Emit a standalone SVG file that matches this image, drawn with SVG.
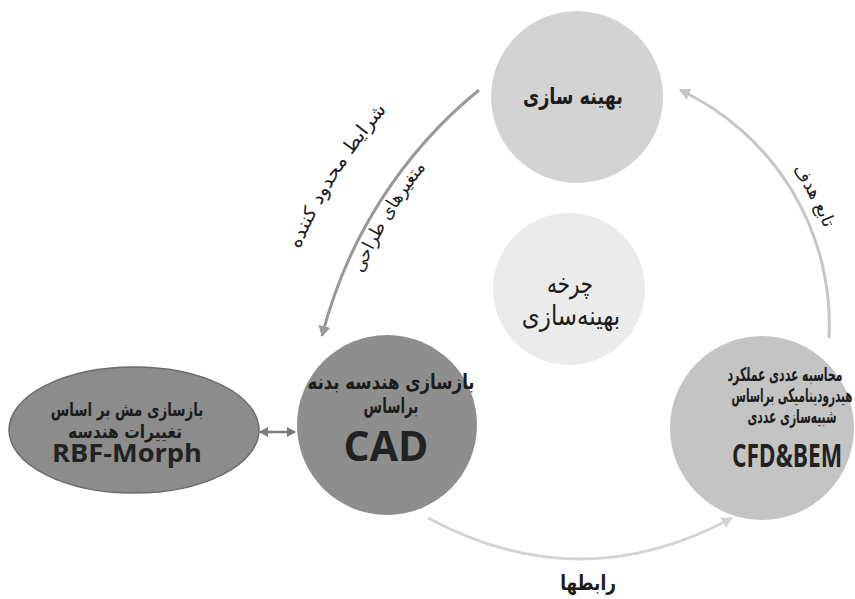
<svg xmlns="http://www.w3.org/2000/svg" width="855" height="599" viewBox="0 0 855 599">
<style>
.fa{font-family:"DejaVu Sans","Noto Sans",sans-serif;fill:#1c1c1c;text-anchor:middle}
.b{font-weight:bold}
.en{font-family:"Open Sans","Liberation Sans",sans-serif;font-weight:bold;fill:#222;text-anchor:middle}
.conn{fill:none;stroke-width:3}
</style>
<defs>
<marker id="ahDark" markerWidth="12" markerHeight="12" refX="10" refY="6" orient="auto" markerUnits="userSpaceOnUse"><path d="M0,0 L11,6 L0,12 Z" fill="#999"/></marker>
<marker id="ahLight" markerWidth="12" markerHeight="12" refX="10" refY="6" orient="auto" markerUnits="userSpaceOnUse"><path d="M0,0 L11,6 L0,12 Z" fill="#d4d4d4"/></marker>
<marker id="ahMid" markerWidth="12" markerHeight="12" refX="10" refY="6" orient="auto" markerUnits="userSpaceOnUse"><path d="M0,0 L11,6 L0,12 Z" fill="#c6c6c6"/></marker>
<marker id="ahD2" markerWidth="10" markerHeight="10" refX="8" refY="5" orient="auto-start-reverse" markerUnits="userSpaceOnUse"><path d="M0,0 L9,5 L0,10 Z" fill="#7a7a7a"/></marker>
<path id="pOuter" d="M 262.8 385.4 A 517 517 0 0 1 493.5 17.8"/>
<path id="pInner" d="M 343.8 325.8 A 450 450 0 0 1 463.5 126.3"/>
<path id="pRight" d="M 722.4 100.2 A 272 272 0 0 1 842 325"/>
</defs>
<rect width="855" height="599" fill="#ffffff"/>

<g id="connectors">
<path class="conn" d="M 479 90 A 467 467 0 0 0 322 336" stroke="#999" marker-end="url(#ahDark)"/>
<path class="conn" d="M 428 518 Q 580 600 732 518" stroke="#d4d4d4" marker-end="url(#ahLight)"/>
<path class="conn" d="M 829 338 A 259 259 0 0 0 680 90" stroke="#c6c6c6" marker-end="url(#ahMid)"/>
<line x1="260" y1="432" x2="295" y2="432" stroke="#7a7a7a" stroke-width="2.5" marker-start="url(#ahD2)" marker-end="url(#ahD2)"/>
<text class="fa" font-size="19" textLength="165" lengthAdjust="spacingAndGlyphs"><textPath href="#pOuter" startOffset="50%">شرایط محدود کننده</textPath></text>
<text class="fa" font-size="18" textLength="124" lengthAdjust="spacingAndGlyphs"><textPath href="#pInner" startOffset="50%">متغیرهای طراحی</textPath></text>
<text class="fa" font-size="18" textLength="67" lengthAdjust="spacingAndGlyphs"><textPath href="#pRight" startOffset="50%">تابع هدف</textPath></text>
<text class="fa b" transform="translate(588,590) scale(0.82,1)" font-size="21" textLength="68" lengthAdjust="spacingAndGlyphs">رابطها</text>
</g>

<g id="node-optimization">
<circle cx="577" cy="97" r="86" fill="#d3d3d3"/>
<text class="fa b" transform="translate(573,104) scale(0.8,1)" font-size="23" textLength="125" lengthAdjust="spacingAndGlyphs">بهینه سازی</text>
</g>

<g id="node-cycle">
<circle cx="569" cy="289" r="76" fill="#ebebeb"/>
<text class="fa" transform="translate(570,293) scale(0.74,1)" font-size="27" textLength="62" lengthAdjust="spacingAndGlyphs">چرخه</text>
<text class="fa" transform="translate(571,325) scale(0.84,1)" font-size="27" textLength="117" lengthAdjust="spacingAndGlyphs">بهینه‌سازی</text>
</g>

<g id="node-cad">
<circle cx="387" cy="425" r="90" fill="#8e8e8e"/>
<text class="fa b" transform="translate(391,389) scale(0.8,1)" font-size="21" textLength="209" lengthAdjust="spacingAndGlyphs">بازسازی هندسه بدنه</text>
<text class="fa b" transform="translate(391,413) scale(0.66,1)" font-size="21" textLength="83" lengthAdjust="spacingAndGlyphs">براساس</text>
<text class="en" x="386" y="461" font-size="41">CAD</text>
</g>

<g id="node-rbf">
<ellipse cx="134" cy="430" rx="125" ry="63" fill="#8c8c8c" stroke="#6c6c6c" stroke-width="1.5"/>
<text class="fa b" transform="translate(127,416) scale(0.67,1)" font-size="19" textLength="228" lengthAdjust="spacingAndGlyphs">بازسازی مش بر اساس</text>
<text class="fa b" transform="translate(125,438) scale(0.76,1)" font-size="19" textLength="150" lengthAdjust="spacingAndGlyphs">تغییرات هندسه</text>
<text class="en" x="127" y="462" font-size="25" textLength="150" lengthAdjust="spacingAndGlyphs">RBF-Morph</text>
</g>

<g id="node-cfd">
<circle cx="762" cy="428" r="92" fill="#c4c4c4"/>
<text class="fa b" transform="translate(785,381) scale(0.52,1)" font-size="19" textLength="221" lengthAdjust="spacingAndGlyphs">محاسبه عددی عملکرد</text>
<text class="fa b" transform="translate(792,402) scale(0.51,1)" font-size="19" textLength="237" lengthAdjust="spacingAndGlyphs">هیدرودینامیکی براساس</text>
<text class="fa b" transform="translate(792,423) scale(0.53,1)" font-size="19" textLength="168" lengthAdjust="spacingAndGlyphs">شبیه‌سازی عددی</text>
<text class="en" transform="translate(787,467) scale(0.72,1)" font-size="32" textLength="153" lengthAdjust="spacingAndGlyphs">CFD&amp;BEM</text>
</g>
</svg>
